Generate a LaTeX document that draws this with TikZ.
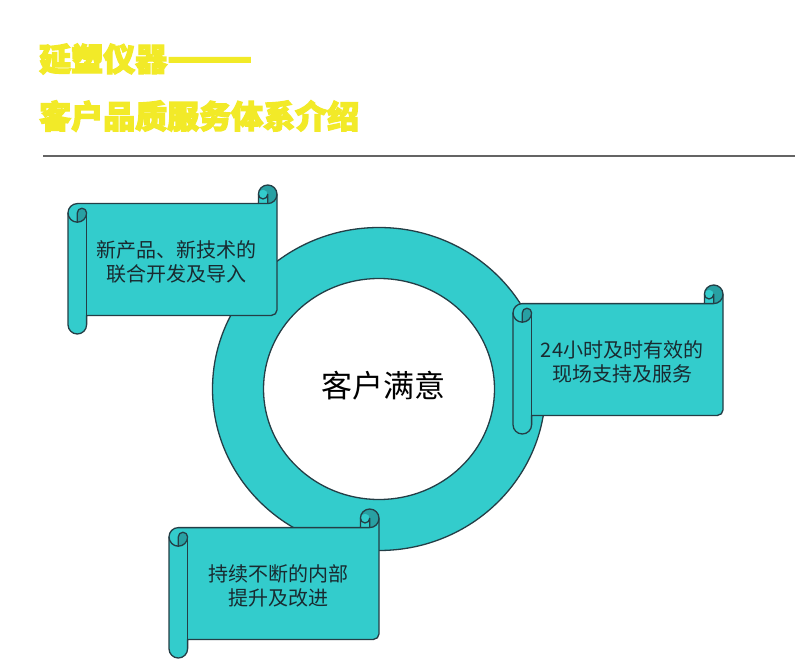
\documentclass[tikz,border=0pt]{standalone}
\usepackage{fontspec}
\newfontfamily\cjk{Noto Sans CJK SC}
\newfontfamily\cjkheavy{Noto Sans CJK SC}[FakeBold=5, BoldFeatures={FakeBold=4}]
\definecolor{tealfill}{RGB}{51,204,204}
\definecolor{tealdark}{RGB}{40,160,163}
\definecolor{edgecol}{RGB}{36,62,70}
\definecolor{titleyellow}{RGB}{242,234,40}
\definecolor{textdark}{RGB}{25,42,48}
\definecolor{rulegray}{RGB}{100,100,100}
\tikzset{
  edge/.style={draw=edgecol, line width=1.3pt, line join=round},
  titletext/.style={font=\cjkheavy\bfseries\fontsize{32}{36}\selectfont, text=titleyellow, inner sep=0pt},
  scrolltext/.style={font=\cjk\fontsize{20}{24}\selectfont, text=textdark, align=center, inner sep=0pt},
  centertext/.style={font=\cjk\fontsize{31}{36}\selectfont, text=black, inner sep=0pt},
  rulestyle/.style={draw=rulegray, line width=2pt}
}
% PowerPoint-like horizontal scroll: #1=left, #2=top, #3=right, #4=bottom (pixel coords, y down)
\newcommand\pptscroll[4]{%
  \pgfmathsetmacro\scrW{#3-#1}%
  \pgfmathsetmacro\scrH{#4-#2}%
  \def\scrD{18.6}\def\scrR{9.3}\def\scrQ{4.65}\def\scrC{5.5}%
  \def\scrMain{(0,\scrH-\scrD-\scrR) arc[start angle=180,delta angle=-90,radius=\scrR]
    -- (\scrW-\scrD,\scrH-\scrD) -- (\scrW-\scrD,\scrH-\scrR)
    arc[start angle=180,delta angle=-180,radius=\scrR]
    -- (\scrW,\scrD+\scrC) arc[start angle=0,delta angle=-90,radius=\scrC]
    -- (\scrD,\scrD) -- (\scrD,\scrR) arc[start angle=0,delta angle=-180,radius=\scrR] -- cycle}%
  \begin{scope}[shift={(#1,665-#4)}]
    \fill[tealfill] \scrMain;
    % darker curl areas
    \fill[tealdark] (\scrR,\scrH-2*\scrD) arc[start angle=-90,delta angle=90,radius=\scrR]
      arc[start angle=0,delta angle=180,radius=\scrQ] -- cycle;
    \fill[tealdark] (\scrW-\scrR,\scrH-\scrD) arc[start angle=-90,delta angle=270,radius=\scrR]
      arc[start angle=180,delta angle=-180,radius=\scrQ] -- cycle;
    \draw[edge] \scrMain;
    % right curl details
    \draw[edge] (\scrW-\scrD,\scrH-\scrD) -- (\scrW-\scrR,\scrH-\scrD)
      arc[start angle=-90,delta angle=90,radius=\scrR];
    \draw[edge] (\scrW-\scrR,\scrH-\scrD) -- (\scrW-\scrR,\scrH-\scrR)
      arc[start angle=0,delta angle=-180,radius=\scrQ];
    % left roll details
    \draw[edge] (\scrR,\scrH-2*\scrD) -- (\scrR,\scrH-\scrD-\scrR)
      arc[start angle=180,delta angle=-180,radius=\scrQ]
      arc[start angle=0,delta angle=-180,radius=\scrR];
    \draw[edge] (\scrD,\scrH-\scrD-\scrR) -- (\scrD,\scrD);
  \end{scope}%
}
\begin{document}
\begin{tikzpicture}[x=1pt,y=1pt]
\useasboundingbox (0,0) rectangle (800,665);
\fill[white] (0,0) rectangle (800,665);

% title
\node[titletext, anchor=west] (t1) at (39,606) {延塑仪器\scalebox{1.55}[1.2]{——}};
\node[titletext, anchor=west] (t2) at (39,549) {客户品质服务体系介绍};

% rule
\coordinate (hrA) at (43,509);
\coordinate (hrB) at (795,509);
\draw[rulestyle] (hrA) -- (hrB);

% ring
\fill[tealfill, even odd rule] (379,276) ellipse[x radius=166.5, y radius=161.5]
  (379,276) ellipse[x radius=115.5, y radius=110.5];
\draw[edge] (379,276) ellipse[x radius=166.5, y radius=161.5];
\draw[edge] (379,276) ellipse[x radius=115.5, y radius=110.5];
\node[centertext] (center) at (383.5,279) {客户满意};

% scrolls
\pptscroll{68}{185}{277}{334}
\node[scrolltext] (s1) at (176,403) {新产品、新技术的\\联合开发及导入};
\pptscroll{513}{285}{723}{434}
\node[scrolltext] (s2) at (622,303) {24小时及时有效的\\现场支持及服务};
\pptscroll{169}{509}{379}{658}
\node[scrolltext] (s3) at (278,79.5) {持续不断的内部\\提升及改进};
\end{tikzpicture}
\end{document}
